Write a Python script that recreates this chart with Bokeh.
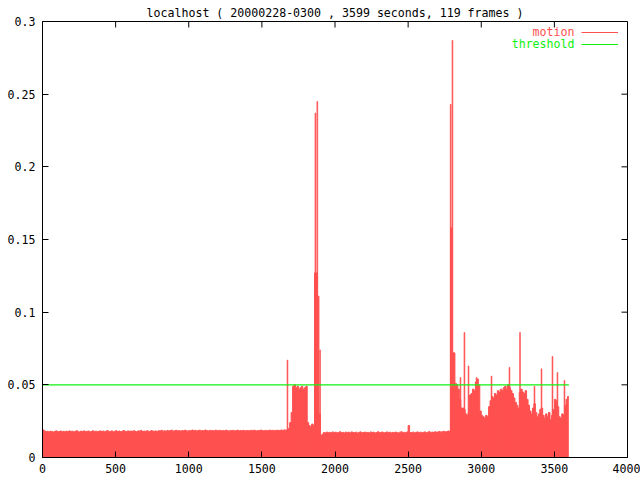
from bokeh.plotting import figure
from bokeh.models import Range1d, FixedTicker, NumeralTickFormatter, Legend, LegendItem, Label
from bokeh.core.properties import value
from bokeh.embed import file_html
from bokeh.resources import INLINE

title_text = "localhost ( 20000228-0300 , 3599 seconds, 119 frames )"
duration = 3599          # seconds recorded
threshold = 0.05         # motion threshold
sample_step = 10         # seconds per motion sample below

# motion level, one value per 10 s (0 .. 3590 s)
motion = [
    0.0190, 0.0183, 0.0178, 0.0180, 0.0176, 0.0181, 0.0179, 0.0174, 0.0180, 0.0183, 0.0177, 0.0179, 0.0182, 0.0176, 0.0180, 0.0178, 0.0181, 0.0177, 0.0183, 0.0179,
    0.0181, 0.0176, 0.0180, 0.0184, 0.0178, 0.0175, 0.0181, 0.0179, 0.0183, 0.0177, 0.0180, 0.0182, 0.0176, 0.0179, 0.0184, 0.0178, 0.0181, 0.0177, 0.0180, 0.0183,
    0.0179, 0.0182, 0.0177, 0.0181, 0.0185, 0.0178, 0.0180, 0.0183, 0.0176, 0.0181, 0.0184, 0.0179, 0.0182, 0.0178, 0.0180, 0.0185, 0.0181, 0.0177, 0.0183, 0.0180,
    0.0182, 0.0179, 0.0184, 0.0180, 0.0177, 0.0183, 0.0181, 0.0186, 0.0179, 0.0182, 0.0178, 0.0184, 0.0181, 0.0179, 0.0185, 0.0182, 0.0180, 0.0183, 0.0178, 0.0184,
    0.0183, 0.0187, 0.0181, 0.0184, 0.0179, 0.0186, 0.0182, 0.0185, 0.0188, 0.0181, 0.0184, 0.0187, 0.0182, 0.0185, 0.0180, 0.0186, 0.0183, 0.0188, 0.0184, 0.0181,
    0.0186, 0.0183, 0.0189, 0.0184, 0.0187, 0.0182, 0.0185, 0.0188, 0.0183, 0.0186, 0.0184, 0.0189, 0.0185, 0.0182, 0.0187, 0.0184, 0.0186, 0.0183, 0.0188, 0.0185,
    0.0184, 0.0187, 0.0182, 0.0186, 0.0183, 0.0188, 0.0185, 0.0181, 0.0186, 0.0184, 0.0187, 0.0183, 0.0185, 0.0188, 0.0182, 0.0186, 0.0184, 0.0187, 0.0183, 0.0185,
    0.0186, 0.0183, 0.0187, 0.0184, 0.0188, 0.0185, 0.0182, 0.0186, 0.0184, 0.0189, 0.0185, 0.0183, 0.0187, 0.0184, 0.0186, 0.0188, 0.0185, 0.0187, 0.0184, 0.0186,
    0.0188, 0.0185, 0.0187, 0.0189, 0.0186, 0.0190, 0.0188, 0.0190, 0.0200, 0.0240, 0.0310, 0.0490, 0.0500, 0.0480, 0.0490, 0.0470, 0.0480, 0.0490, 0.0470, 0.0480,
    0.0490, 0.0240, 0.0220, 0.0210, 0.0230, 0.0220, 0.1270, 0.1270, 0.1110, 0.0300, 0.0150, 0.0160, 0.0172, 0.0168, 0.0175, 0.0170, 0.0173, 0.0169, 0.0176, 0.0171,
    0.0174, 0.0169, 0.0172, 0.0177, 0.0170, 0.0173, 0.0168, 0.0175, 0.0171, 0.0174, 0.0169, 0.0176, 0.0172, 0.0170, 0.0174, 0.0167, 0.0173, 0.0176, 0.0170, 0.0172,
    0.0175, 0.0170, 0.0173, 0.0168, 0.0176, 0.0171, 0.0174, 0.0169, 0.0172, 0.0177, 0.0170, 0.0173, 0.0175, 0.0168, 0.0172, 0.0176, 0.0171, 0.0174, 0.0169, 0.0173,
    0.0170, 0.0175, 0.0172, 0.0168, 0.0174, 0.0177, 0.0171, 0.0173, 0.0169, 0.0176, 0.0220, 0.0172, 0.0170, 0.0175, 0.0168, 0.0173, 0.0176, 0.0171, 0.0174, 0.0170,
    0.0173, 0.0176, 0.0170, 0.0174, 0.0178, 0.0171, 0.0175, 0.0172, 0.0177, 0.0173, 0.0176, 0.0179, 0.0174, 0.0177, 0.0180, 0.0176, 0.0178, 0.0182, 0.0180, 0.1580,
    0.0720, 0.0720, 0.0510, 0.0500, 0.0470, 0.0400, 0.0340, 0.0340, 0.0330, 0.0300, 0.0290, 0.0310, 0.0430, 0.0440, 0.0470, 0.0460, 0.0520, 0.0540, 0.0500, 0.0320,
    0.0290, 0.0280, 0.0270, 0.0290, 0.0280, 0.0350, 0.0390, 0.0420, 0.0410, 0.0440, 0.0430, 0.0460, 0.0450, 0.0470, 0.0460, 0.0480, 0.0490, 0.0470, 0.0500, 0.0480,
    0.0460, 0.0440, 0.0410, 0.0380, 0.0360, 0.0340, 0.0450, 0.0470, 0.0450, 0.0440, 0.0460, 0.0400, 0.0360, 0.0320, 0.0300, 0.0340, 0.0370, 0.0310, 0.0280, 0.0300,
    0.0330, 0.0340, 0.0290, 0.0270, 0.0300, 0.0280, 0.0310, 0.0260, 0.0290, 0.0330, 0.0400, 0.0390, 0.0350, 0.0280, 0.0270, 0.0300, 0.0290, 0.0360, 0.0400, 0.0420,
]

# short single-second spikes (time in s, motion level)
peak_t = [1675, 1866, 1879, 1898, 2791, 2803, 2858, 2885, 2913, 2968, 3070, 3193, 3265, 3364, 3412, 3487, 3521, 3569]
peak_v = [0.067, 0.237, 0.245, 0.074, 0.243, 0.287, 0.055, 0.086, 0.063, 0.055, 0.056, 0.062, 0.086, 0.049, 0.061, 0.0695, 0.0585, 0.053]

x_ticks = [0, 500, 1000, 1500, 2000, 2500, 3000, 3500, 4000]
y_ticks = [0, 0.05, 0.1, 0.15, 0.2, 0.25, 0.3]
y_tick_labels = ["0", "0.05", "0.1", "0.15", "0.2", "0.25", "0.3"]
legend_labels = ["motion", "threshold"]

RED = "#ff5050"
GREEN = "#10f010"
FONT = "DejaVu Sans Mono"
FS = "11.6px"

W, H = 640, 480
ML, MR, MT, MB = 42, 13, 21, 23
X0, X1, Y0, Y1 = 0, 4000, 0, 0.3
TICK = 6  # px, inward ticks

# expand the sampled series into a step outline
xs, ys = [], []
for i, v in enumerate(motion):
    t0 = i * sample_step
    t1 = min(t0 + sample_step, duration)
    xs += [t0, t1]
    ys += [v, v]

p = figure(width=W, height=H, x_range=Range1d(X0, X1), y_range=Range1d(Y0, Y1),
           output_backend="svg", toolbar_location=None,
           min_border_left=ML, min_border_right=MR, min_border_top=MT, min_border_bottom=MB)
p.background_fill_color = "white"
p.border_fill_color = "white"
p.outline_line_color = "black"
p.xgrid.visible = False
p.ygrid.visible = False

p.title.text = title_text
p.title.align = "center"
p.title.vertical_align = "top"
p.title.text_font = FONT
p.title.text_font_size = FS
p.title.text_font_style = "normal"
p.title.text_color = "black"
p.title.standoff = 0
p.title.offset = 0

area = p.varea(x=xs, y1=0, y2=ys, fill_color=RED)
outline = p.line(xs, ys, line_color=RED, line_width=1)
p.vbar(x=peak_t, top=peak_v, bottom=0, width=6, fill_color=RED, line_color=RED, line_width=0.6)
thr = p.line([0, duration], [threshold, threshold], line_color=GREEN, line_width=1.2)

for ax, ticks in ((p.xaxis[0], x_ticks), (p.yaxis[0], y_ticks)):
    ax.ticker = FixedTicker(ticks=ticks)
    ax.axis_line_color = "black"
    ax.major_tick_line_color = "black"
    ax.major_tick_in = TICK
    ax.major_tick_out = 0
    ax.minor_tick_in = 0
    ax.minor_tick_out = 0
    ax.major_label_text_font = FONT
    ax.major_label_text_font_size = FS
    ax.major_label_text_color = "black"
p.xaxis[0].major_label_standoff = 6
p.yaxis[0].major_label_standoff = 7
p.yaxis[0].formatter = NumeralTickFormatter(format="0.[00]")
p.yaxis[0].major_label_overrides = dict(zip(y_ticks, y_tick_labels))

# mirrored inward ticks on the top and right borders (gnuplot style)
frame_w = W - ML - MR
frame_h = H - MT - MB
dy = TICK * (Y1 - Y0) / frame_h
dx = TICK * (X1 - X0) / frame_w
p.segment(x0=x_ticks, y0=[Y1] * len(x_ticks), x1=x_ticks, y1=[Y1 - dy] * len(x_ticks),
          line_color="black", line_width=1)
p.segment(x0=[X1] * len(y_ticks), y0=y_ticks, x1=[X1 - dx] * len(y_ticks), y1=y_ticks,
          line_color="black", line_width=1)

# gnuplot-like key: right-aligned coloured text ...
key_x = X0 + (X1 - X0) * 532 / frame_w
for k, (lab, col) in enumerate(zip(legend_labels, [RED, GREEN])):
    ky = Y1 - (Y1 - Y0) * (10.5 + 12 * k) / frame_h
    p.add_layout(Label(x=key_x, y=ky, text=lab, text_align="right", text_baseline="middle",
                       text_color=col, text_font=FONT, text_font_size=FS))

# ... followed by the line samples
legend = Legend(items=[LegendItem(label=value(""), renderers=[outline]),
                       LegendItem(label=value(""), renderers=[thr])],
                location=(539, frame_h - 28.5), glyph_width=37, glyph_height=12,
                label_height=12, label_width=0, label_standoff=0, label_text_font_size="1px",
                padding=0, margin=0, spacing=0,
                background_fill_alpha=0, border_line_alpha=0)
p.add_layout(legend)

open("out.html", "w").write(file_html(p, INLINE))
